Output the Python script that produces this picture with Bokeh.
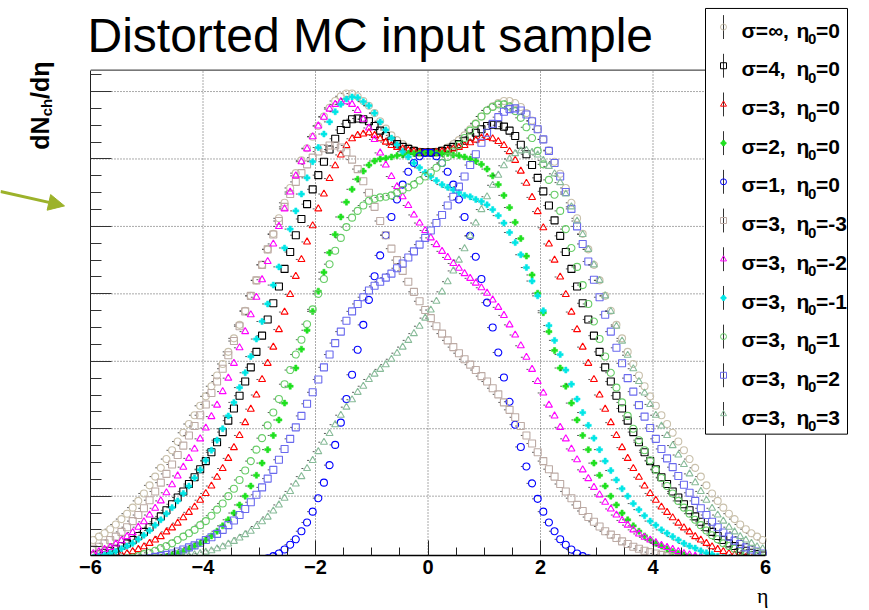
import math
from bokeh.plotting import figure
from bokeh.layouts import row
from bokeh.models import Range1d, FixedTicker, LinearAxis, Label, Arrow, NormalHead
from bokeh.core.properties import value
from bokeh.embed import file_html
from bokeh.resources import INLINE

# ---------------- data (dN/deta, arbitrary units; bins of 0.1 in eta) ----------------
ETA = [round(-5.95 + 0.1 * k, 2) for k in range(120)]

sig_inf = [0.35, 0.40, 0.45, 0.51, 0.58, 0.66, 0.74, 0.83, 0.93, 1.04,
           1.16, 1.29, 1.42, 1.55, 1.68, 1.81, 1.94, 2.07, 2.20, 2.34,
           2.48, 2.63, 2.79, 2.96, 3.14, 3.34, 3.54, 3.75, 3.97, 4.20,
           4.43, 4.66, 4.89, 5.12, 5.35, 5.57, 5.79, 5.98, 6.16, 6.33,
           6.49, 6.63, 6.76, 6.86, 6.93, 6.97, 6.97, 6.93, 6.86, 6.79,
           6.68, 6.56, 6.45, 6.35, 6.28, 6.22, 6.17, 6.13, 6.11, 6.10,
           6.10, 6.11, 6.13, 6.17, 6.22, 6.28, 6.35, 6.44, 6.53, 6.63,
           6.72, 6.78, 6.83, 6.86, 6.86, 6.83, 6.77, 6.68, 6.57, 6.44,
           6.29, 6.13, 5.96, 5.78, 5.57, 5.35, 5.12, 4.89, 4.66, 4.43,
           4.20, 3.97, 3.75, 3.54, 3.34, 3.14, 2.96, 2.79, 2.63, 2.48,
           2.34, 2.20, 2.07, 1.94, 1.81, 1.68, 1.55, 1.42, 1.29, 1.16,
           1.04, 0.93, 0.83, 0.74, 0.66, 0.58, 0.51, 0.45, 0.40, 0.35]

sig4 = [0.12, 0.14, 0.16, 0.19, 0.22, 0.26, 0.30, 0.35, 0.41, 0.47,
        0.54, 0.62, 0.70, 0.79, 0.88, 0.98, 1.07, 1.18, 1.28, 1.40,
        1.52, 1.65, 1.80, 1.95, 2.12, 2.30, 2.49, 2.70, 2.91, 3.14,
        3.38, 3.62, 3.86, 4.11, 4.37, 4.62, 4.87, 5.11, 5.33, 5.55,
        5.76, 5.96, 6.14, 6.30, 6.43, 6.52, 6.59, 6.60, 6.59, 6.56,
        6.49, 6.42, 6.34, 6.27, 6.22, 6.18, 6.15, 6.12, 6.10, 6.10,
        6.10, 6.10, 6.12, 6.15, 6.18, 6.22, 6.27, 6.33, 6.39, 6.44,
        6.49, 6.51, 6.50, 6.48, 6.42, 6.34, 6.21, 6.07, 5.91, 5.72,
        5.52, 5.31, 5.09, 4.86, 4.62, 4.37, 4.11, 3.86, 3.62, 3.38,
        3.14, 2.91, 2.70, 2.49, 2.30, 2.12, 1.95, 1.80, 1.65, 1.52,
        1.40, 1.28, 1.18, 1.07, 0.98, 0.88, 0.79, 0.70, 0.62, 0.54,
        0.47, 0.41, 0.35, 0.30, 0.26, 0.22, 0.19, 0.16, 0.14, 0.12]

sig3 = [0.05, 0.06, 0.07, 0.09, 0.10, 0.13, 0.15, 0.18, 0.21, 0.25,
        0.30, 0.35, 0.40, 0.47, 0.53, 0.60, 0.68, 0.76, 0.84, 0.94,
        1.04, 1.15, 1.28, 1.41, 1.56, 1.72, 1.90, 2.09, 2.29, 2.50,
        2.73, 2.97, 3.21, 3.47, 3.73, 3.99, 4.26, 4.51, 4.77, 5.01,
        5.26, 5.48, 5.71, 5.90, 6.06, 6.20, 6.30, 6.35, 6.37, 6.39,
        6.35, 6.30, 6.25, 6.20, 6.17, 6.15, 6.13, 6.11, 6.10, 6.10,
        6.10, 6.10, 6.11, 6.13, 6.15, 6.17, 6.20, 6.24, 6.28, 6.31,
        6.32, 6.30, 6.26, 6.20, 6.11, 5.98, 5.82, 5.64, 5.43, 5.22,
        4.98, 4.74, 4.50, 4.25, 3.99, 3.73, 3.47, 3.21, 2.97, 2.73,
        2.50, 2.29, 2.09, 1.90, 1.72, 1.56, 1.41, 1.28, 1.15, 1.04,
        0.94, 0.84, 0.76, 0.68, 0.60, 0.53, 0.47, 0.40, 0.35, 0.30,
        0.25, 0.21, 0.18, 0.15, 0.13, 0.10, 0.09, 0.07, 0.06, 0.05]

sig2 = [0.00, 0.01, 0.01, 0.01, 0.01, 0.02, 0.02, 0.03, 0.03, 0.04,
        0.05, 0.07, 0.09, 0.10, 0.13, 0.15, 0.18, 0.22, 0.26, 0.30,
        0.35, 0.41, 0.48, 0.56, 0.65, 0.75, 0.87, 1.00, 1.15, 1.31,
        1.49, 1.69, 1.90, 2.13, 2.38, 2.63, 2.90, 3.18, 3.46, 3.74,
        4.04, 4.32, 4.61, 4.88, 5.14, 5.36, 5.55, 5.70, 5.82, 5.91,
        5.97, 6.00, 6.01, 6.03, 6.05, 6.06, 6.08, 6.08, 6.09, 6.10,
        6.10, 6.09, 6.08, 6.08, 6.06, 6.05, 6.03, 6.00, 5.97, 5.92,
        5.85, 5.75, 5.62, 5.46, 5.28, 5.06, 4.82, 4.56, 4.28, 4.01,
        3.72, 3.44, 3.16, 2.90, 2.63, 2.38, 2.13, 1.90, 1.69, 1.49,
        1.31, 1.15, 1.00, 0.87, 0.75, 0.65, 0.56, 0.48, 0.41, 0.35,
        0.30, 0.26, 0.22, 0.18, 0.15, 0.13, 0.10, 0.09, 0.07, 0.05,
        0.04, 0.03, 0.03, 0.02, 0.02, 0.01, 0.01, 0.01, 0.01, 0.00]

sig1 = [0.00, 0.00, 0.00, 0.00, 0.00, 0.00, 0.00, 0.00, 0.00, 0.00,
        0.00, 0.00, 0.00, 0.00, 0.00, 0.00, 0.00, 0.00, 0.00, 0.00,
        0.00, 0.00, 0.00, 0.00, 0.00, 0.01, 0.01, 0.02, 0.03, 0.04,
        0.06, 0.08, 0.11, 0.15, 0.21, 0.28, 0.36, 0.48, 0.61, 0.77,
        0.97, 1.20, 1.46, 1.76, 2.09, 2.44, 2.80, 3.17, 3.54, 3.91,
        4.26, 4.57, 4.87, 5.14, 5.40, 5.62, 5.81, 5.94, 6.04, 6.09,
        6.09, 6.04, 5.94, 5.81, 5.62, 5.40, 5.14, 4.86, 4.55, 4.22,
        3.87, 3.50, 3.13, 2.76, 2.40, 2.06, 1.73, 1.44, 1.19, 0.96,
        0.77, 0.61, 0.48, 0.36, 0.28, 0.21, 0.15, 0.11, 0.08, 0.06,
        0.04, 0.03, 0.02, 0.01, 0.01, 0.00, 0.00, 0.00, 0.00, 0.00,
        0.00, 0.00, 0.00, 0.00, 0.00, 0.00, 0.00, 0.00, 0.00, 0.00,
        0.00, 0.00, 0.00, 0.00, 0.00, 0.00, 0.00, 0.00, 0.00, 0.00]

eta0_m3 = [0.22, 0.25, 0.30, 0.35, 0.40, 0.47, 0.54, 0.63, 0.72, 0.82,
           0.94, 1.07, 1.20, 1.33, 1.47, 1.61, 1.75, 1.90, 2.04, 2.20,
           2.36, 2.53, 2.70, 2.89, 3.09, 3.30, 3.52, 3.74, 3.97, 4.20,
           4.43, 4.66, 4.88, 5.08, 5.29, 5.48, 5.66, 5.79, 5.92, 6.02,
           6.11, 6.16, 6.20, 6.20, 6.17, 6.10, 5.99, 5.85, 5.67, 5.50,
           5.29, 5.08, 4.87, 4.67, 4.50, 4.34, 4.18, 4.03, 3.89, 3.76,
           3.64, 3.52, 3.41, 3.31, 3.21, 3.12, 3.03, 2.95, 2.87, 2.78,
           2.70, 2.60, 2.51, 2.39, 2.28, 2.17, 2.04, 1.90, 1.78, 1.65,
           1.52, 1.40, 1.29, 1.18, 1.07, 0.97, 0.87, 0.78, 0.69, 0.62,
           0.55, 0.48, 0.43, 0.38, 0.33, 0.29, 0.25, 0.22, 0.19, 0.17,
           0.15, 0.13, 0.11, 0.10, 0.08, 0.07, 0.06, 0.05, 0.04, 0.03,
           0.03, 0.02, 0.02, 0.01, 0.01, 0.01, 0.01, 0.01, 0.00, 0.00]

eta0_m2 = [0.15, 0.18, 0.21, 0.24, 0.29, 0.34, 0.40, 0.46, 0.54, 0.62,
           0.72, 0.82, 0.93, 1.05, 1.17, 1.30, 1.43, 1.56, 1.70, 1.85,
           2.01, 2.18, 2.35, 2.55, 2.75, 2.97, 3.20, 3.44, 3.69, 3.95,
           4.21, 4.48, 4.74, 5.00, 5.26, 5.51, 5.75, 5.96, 6.15, 6.33,
           6.49, 6.62, 6.74, 6.81, 6.85, 6.85, 6.81, 6.72, 6.59, 6.46,
           6.29, 6.09, 5.91, 5.74, 5.59, 5.44, 5.31, 5.17, 5.05, 4.94,
           4.83, 4.73, 4.63, 4.54, 4.45, 4.38, 4.30, 4.23, 4.16, 4.09,
           4.01, 3.91, 3.80, 3.68, 3.54, 3.39, 3.23, 3.06, 2.88, 2.70,
           2.53, 2.35, 2.19, 2.02, 1.85, 1.70, 1.54, 1.39, 1.26, 1.13,
           1.02, 0.91, 0.81, 0.72, 0.64, 0.57, 0.50, 0.44, 0.39, 0.35,
           0.31, 0.27, 0.24, 0.21, 0.18, 0.15, 0.13, 0.11, 0.10, 0.08,
           0.07, 0.05, 0.04, 0.04, 0.03, 0.02, 0.02, 0.02, 0.01, 0.01]

eta0_m1 = [0.09, 0.11, 0.13, 0.15, 0.18, 0.22, 0.26, 0.30, 0.36, 0.42,
           0.49, 0.57, 0.65, 0.74, 0.83, 0.93, 1.04, 1.15, 1.27, 1.39,
           1.53, 1.68, 1.83, 2.00, 2.19, 2.39, 2.61, 2.83, 3.07, 3.33,
           3.59, 3.85, 4.13, 4.40, 4.68, 4.96, 5.23, 5.48, 5.72, 5.96,
           6.17, 6.37, 6.55, 6.70, 6.81, 6.89, 6.92, 6.91, 6.85, 6.79,
           6.68, 6.55, 6.43, 6.31, 6.21, 6.11, 6.03, 5.94, 5.87, 5.80,
           5.74, 5.68, 5.62, 5.58, 5.54, 5.50, 5.46, 5.44, 5.40, 5.37,
           5.32, 5.25, 5.16, 5.05, 4.91, 4.76, 4.58, 4.39, 4.19, 3.97,
           3.75, 3.53, 3.31, 3.10, 2.87, 2.66, 2.44, 2.24, 2.05, 1.86,
           1.69, 1.52, 1.38, 1.24, 1.11, 1.00, 0.89, 0.80, 0.71, 0.63,
           0.57, 0.50, 0.45, 0.40, 0.35, 0.30, 0.26, 0.23, 0.19, 0.16,
           0.14, 0.11, 0.09, 0.08, 0.07, 0.05, 0.04, 0.04, 0.03, 0.02]

eta0_p1 = [0.02, 0.03, 0.04, 0.04, 0.05, 0.07, 0.08, 0.09, 0.11, 0.14,
           0.16, 0.19, 0.23, 0.26, 0.30, 0.35, 0.40, 0.45, 0.50, 0.57,
           0.63, 0.71, 0.80, 0.89, 1.00, 1.11, 1.24, 1.38, 1.52, 1.69,
           1.86, 2.05, 2.24, 2.44, 2.66, 2.87, 3.10, 3.32, 3.55, 3.77,
           4.00, 4.22, 4.44, 4.64, 4.83, 4.99, 5.13, 5.23, 5.31, 5.38,
           5.41, 5.43, 5.44, 5.46, 5.50, 5.54, 5.58, 5.62, 5.68, 5.74,
           5.80, 5.87, 5.94, 6.03, 6.11, 6.21, 6.31, 6.42, 6.52, 6.63,
           6.72, 6.77, 6.81, 6.81, 6.78, 6.71, 6.61, 6.47, 6.31, 6.12,
           5.92, 5.69, 5.47, 5.23, 4.96, 4.68, 4.40, 4.13, 3.85, 3.59,
           3.33, 3.07, 2.83, 2.61, 2.39, 2.19, 2.00, 1.83, 1.68, 1.53,
           1.39, 1.27, 1.15, 1.04, 0.93, 0.83, 0.74, 0.65, 0.57, 0.49,
           0.42, 0.36, 0.30, 0.26, 0.22, 0.18, 0.15, 0.13, 0.11, 0.09]

eta0_p2 = [0.01, 0.01, 0.02, 0.02, 0.02, 0.03, 0.04, 0.04, 0.05, 0.07,
           0.08, 0.10, 0.11, 0.13, 0.15, 0.18, 0.21, 0.24, 0.27, 0.31,
           0.35, 0.39, 0.44, 0.50, 0.57, 0.64, 0.72, 0.81, 0.91, 1.02,
           1.13, 1.26, 1.39, 1.54, 1.70, 1.85, 2.02, 2.19, 2.37, 2.54,
           2.73, 2.91, 3.10, 3.27, 3.44, 3.60, 3.74, 3.85, 3.95, 4.05,
           4.12, 4.18, 4.24, 4.30, 4.38, 4.45, 4.54, 4.63, 4.73, 4.83,
           4.94, 5.05, 5.17, 5.31, 5.44, 5.59, 5.74, 5.91, 6.07, 6.24,
           6.39, 6.52, 6.62, 6.70, 6.74, 6.75, 6.72, 6.66, 6.56, 6.44,
           6.29, 6.12, 5.94, 5.74, 5.51, 5.26, 5.00, 4.74, 4.48, 4.21,
           3.95, 3.69, 3.44, 3.20, 2.97, 2.75, 2.55, 2.35, 2.18, 2.01,
           1.85, 1.70, 1.56, 1.43, 1.30, 1.17, 1.05, 0.93, 0.82, 0.72,
           0.62, 0.54, 0.46, 0.40, 0.34, 0.29, 0.24, 0.21, 0.18, 0.15]

eta0_p3 = [0.00, 0.01, 0.01, 0.01, 0.01, 0.01, 0.02, 0.02, 0.02, 0.03,
           0.03, 0.04, 0.05, 0.06, 0.07, 0.08, 0.10, 0.11, 0.13, 0.15,
           0.17, 0.19, 0.22, 0.25, 0.29, 0.33, 0.38, 0.43, 0.48, 0.55,
           0.62, 0.69, 0.78, 0.87, 0.97, 1.07, 1.18, 1.29, 1.41, 1.53,
           1.66, 1.80, 1.93, 2.06, 2.20, 2.32, 2.43, 2.54, 2.63, 2.73,
           2.81, 2.88, 2.95, 3.03, 3.12, 3.21, 3.31, 3.41, 3.52, 3.64,
           3.76, 3.89, 4.03, 4.18, 4.34, 4.50, 4.67, 4.86, 5.05, 5.25,
           5.44, 5.61, 5.76, 5.90, 6.00, 6.08, 6.12, 6.13, 6.10, 6.06,
           5.98, 5.89, 5.78, 5.65, 5.48, 5.29, 5.08, 4.88, 4.66, 4.43,
           4.20, 3.97, 3.74, 3.52, 3.30, 3.09, 2.89, 2.70, 2.53, 2.36,
           2.20, 2.04, 1.90, 1.75, 1.61, 1.47, 1.33, 1.20, 1.07, 0.94,
           0.82, 0.72, 0.63, 0.54, 0.47, 0.40, 0.35, 0.30, 0.25, 0.22]

SIGMA_LABELS = ["∞", "4", "3", "2", "1", "3", "3", "3", "3", "3", "3"]
ETA0_LABELS = ["0", "0", "0", "0", "0", "-3", "-2", "-1", "1", "2", "3"]
SERIES_VALUES = [sig_inf, sig4, sig3, sig2, sig1,
                 eta0_m3, eta0_m2, eta0_m1, eta0_p1, eta0_p2, eta0_p3]

X_TICKS = [-6, -4, -2, 0, 2, 4, 6]
X_TICK_LABELS = ["\u22126", "\u22124", "\u22122", "0", "2", "4", "6"]
X_MINOR = [-5.5, -5, -4.5, -3.5, -3, -2.5, -1.5, -1, -0.5,
           0.5, 1, 1.5, 2.5, 3, 3.5, 4.5, 5, 5.5]
Y_TICKS = [1, 2, 3, 4, 5, 6, 7]
Y_MINOR = [0.25 * k for k in range(1, 30) if k % 4 != 0]
X_GRID = [-4, -2, 0, 2, 4]

# ---------------- styles ----------------
MARKERS = ["circle", "square", "triangle", "plus", "circle",
           "square", "triangle", "plus", "circle", "square", "triangle"]
COLORS = ["#c9c0ab", "#000000", "#ff0000", "#1fe01f", "#0000ff",
          "#bcaaa4", "#ff00ff", "#00e6e6", "#66cc66", "#6a6aee", "#88bb99"]

# ---------------- geometry helpers (canvas px -> data) ----------------
LEFT_W = 70
X0_PX, X1_PX = 90.0, 765.0
PXX = (X1_PX - X0_PX) / 12.0
Y_BOT_PX = 558.0
PXY = 67.8
Y_BOT = 0.12
MID = 0.35  # baseline sits this many font-sizes below a "middle" anchor


def cx(px):
    return -6.0 + (px - X0_PX) / PXX


def cy(py):
    return Y_BOT + (Y_BOT_PX - py) / PXY


Y_TOP = cy(70)
FONT = "Liberation Sans"

# ---------------- main figure ----------------
p = figure(width=869 - LEFT_W, height=610, title=None,
           x_range=Range1d(-6, cx(848)), y_range=Range1d(Y_BOT, cy(0)),
           toolbar_location=None, output_backend="svg", tools="",
           min_border_left=20, min_border_right=21, min_border_top=0,
           min_border_bottom=52)
p.background_fill_color = "white"
p.border_fill_color = "white"
p.outline_line_color = None
p.xgrid.visible = False
p.ygrid.visible = False

xa = p.xaxis[0]
xa.ticker = FixedTicker(ticks=X_TICKS, minor_ticks=X_MINOR)
xa.bounds = (-6, 6)
xa.major_label_overrides = {t: s for t, s in zip(X_TICKS, X_TICK_LABELS)}
xa.major_tick_in = 15
xa.major_tick_out = 0
xa.minor_tick_in = 8
xa.minor_tick_out = 0
xa.axis_line_width = 1.5
xa.axis_line_color = "black"
xa.major_tick_line_color = "#222222"
xa.minor_tick_line_color = "#222222"
xa.major_label_standoff = 4
xa.major_label_text_font = FONT
xa.major_label_text_font_style = "bold"
xa.major_label_text_font_size = "20px"
xa.major_label_text_color = "black"

ya = p.yaxis[0]
ya.ticker = FixedTicker(ticks=Y_TICKS, minor_ticks=Y_MINOR)
ya.bounds = (Y_BOT, Y_TOP)
ya.major_label_overrides = {t: "" for t in Y_TICKS}
ya.major_label_standoff = 0
ya.major_tick_in = 21
ya.major_tick_out = 0
ya.minor_tick_in = 11
ya.minor_tick_out = 0
ya.axis_line_color = "#222222"
ya.major_tick_line_color = "#333333"
ya.minor_tick_line_color = "#333333"

eta_axis = LinearAxis(ticker=FixedTicker(ticks=[5.95], minor_ticks=[]),
                      major_label_overrides={5.95: "η"},
                      axis_line_color=None, major_tick_line_color=None,
                      minor_tick_line_color=None, major_label_standoff=0,
                      major_label_text_font="Liberation Serif",
                      major_label_text_font_size="22px",
                      major_label_text_color="black")
p.add_layout(eta_axis, "below")

# grid (dotted) and frame lines
p.segment(x0=X_GRID, y0=[Y_BOT] * len(X_GRID), x1=X_GRID, y1=[Y_TOP] * len(X_GRID),
          line_color="#555555", line_dash="1 2", line_width=1)
p.segment(x0=[-6] * len(Y_TICKS), y0=Y_TICKS, x1=[6] * len(Y_TICKS), y1=Y_TICKS,
          line_color="#555555", line_dash="1 2", line_width=1)
p.segment(x0=[-6, 6], y0=[Y_TOP, Y_BOT], x1=[6, 6], y1=[Y_TOP, Y_TOP],
          line_color="#222222", line_width=1)

# data
for vals, mk, col in zip(SERIES_VALUES, MARKERS, COLORS):
    p.segment(x0=[e - 0.10 for e in ETA], y0=vals, x1=[e - 0.065 for e in ETA], y1=vals,
              line_color="#333333", line_width=1, line_alpha=0.8)
    if mk == "plus":
        p.scatter(ETA, vals, marker=mk, size=6, fill_color=col, line_color=col, line_width=0.5)
    else:
        p.scatter(ETA, vals, marker=mk, size=7, fill_color=None, line_color=col, line_width=1.1)

# title
TITLE_FS = 48
p.add_layout(Label(x=cx(87), y=cy(52 - MID * TITLE_FS), text="Distorted MC input sample",
                   text_font=FONT, text_font_size=f"{TITLE_FS}px", text_color="black",
                   text_align="left", text_baseline="middle"))

# legend (box, error-bar line, marker, texts)
p.quad(left=[cx(705)], right=[cx(847)], top=[cy(8)], bottom=[cy(436)],
       fill_color="white", line_color="black", line_width=1)
rows_px = [26.7 + 38.9 * k for k in range(len(SERIES_VALUES))]
lx = cx(723)
p.segment(x0=[lx] * len(rows_px), y0=[cy(r - 12) for r in rows_px],
          x1=[lx] * len(rows_px), y1=[cy(r + 12) for r in rows_px],
          line_color="#333333", line_width=1)
for r, mk, col in zip(rows_px, MARKERS, COLORS):
    if mk == "plus":
        p.scatter([lx], [cy(r)], marker=mk, size=5, fill_color=col, line_color=col)
    else:
        p.scatter([lx], [cy(r)], marker=mk, size=6, fill_color=None, line_color=col, line_width=1)

n = len(rows_px)
LEG_FS, SUB_FS = 21, 15
main_y = [cy(r + 10.5 - MID * LEG_FS) for r in rows_px]
sub_y = [cy(r + 17.5 - MID * SUB_FS) for r in rows_px]
common = dict(text_font=value(FONT), text_font_style=value("bold"),
              text_color="black", text_align="left", text_baseline="middle")
p.text(x=[cx(741)] * n, y=main_y, text=["σ=" + s + "," for s in SIGMA_LABELS],
       text_font_size=value(f"{LEG_FS}px"), **common)
p.text(x=[cx(796)] * n, y=main_y, text=["η"] * n,
       text_font_size=value(f"{LEG_FS}px"), **common)
p.text(x=[cx(807.5)] * n, y=sub_y, text=["0"] * n,
       text_font_size=value(f"{SUB_FS}px"), **common)
p.text(x=[cx(815.5)] * n, y=main_y, text=["=" + e for e in ETA0_LABELS],
       text_font_size=value(f"{LEG_FS}px"), **common)

# ---------------- left strip: y-axis title and arrow ----------------
H = 610
lf = figure(width=LEFT_W, height=H, title=None, x_range=Range1d(0, LEFT_W),
            y_range=Range1d(H - Y_BOT_PX, H), toolbar_location=None, output_backend="svg",
            tools="", x_axis_location=None, y_axis_location=None,
            min_border_left=0, min_border_right=0, min_border_top=0,
            min_border_bottom=int(H - Y_BOT_PX))
lf.outline_line_color = None
lf.background_fill_color = "white"
lf.border_fill_color = "white"
lf.grid.visible = False

YL_FS, YS_FS = 25, 15
ycommon = dict(angle=math.pi / 2, text_font=value(FONT), text_font_style=value("bold"),
               text_color="black", text_align="left", text_baseline="middle")
lf.text(x=[48.5 - MID * YL_FS], y=[H - 150], text=["dN"],
        text_font_size=value(f"{YL_FS}px"), **ycommon)
lf.text(x=[51.5 - MID * YS_FS], y=[H - 116.5], text=["ch"],
        text_font_size=value(f"{YS_FS}px"), **ycommon)
lf.text(x=[48.5 - MID * YL_FS], y=[H - 99], text=["/dη"],
        text_font_size=value(f"{YL_FS}px"), **ycommon)

ARROW_COL = "#9cb22a"
lf.add_layout(Arrow(end=NormalHead(size=16, fill_color=ARROW_COL, line_color=ARROW_COL),
                    x_start=0, y_start=H - 192, x_end=64, y_end=H - 206.5,
                    line_color=ARROW_COL, line_width=3))

layout = row(lf, p, spacing=0)
open("out.html", "w").write(file_html(layout, INLINE))
